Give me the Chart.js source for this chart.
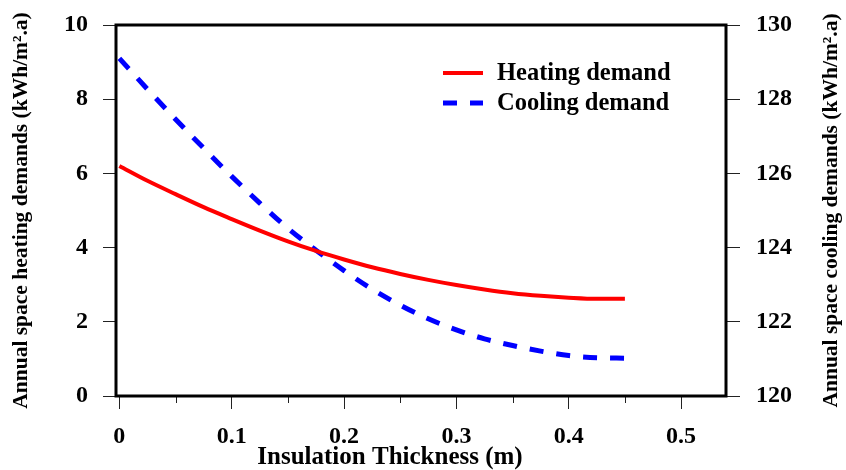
<!DOCTYPE html>
<html>
<head>
<meta charset="utf-8">
<script src="https://cdn.jsdelivr.net/npm/chart.js@4.4.0/dist/chart.umd.min.js"></script>
<style>
  html, body { margin: 0; padding: 0; background: #ffffff; }
  #wrap { width: 846px; height: 470px; }
</style>
</head>
<body>
<div id="wrap"><canvas id="chart" width="846" height="470"></canvas></div>
<script>
// Insulation thickness (m) and the resulting annual demands
const thickness = [0, 0.025, 0.05, 0.075, 0.1, 0.125, 0.15, 0.175, 0.2, 0.225, 0.25, 0.275, 0.3, 0.325, 0.35, 0.375, 0.4, 0.425, 0.45];
const heatingDemand = [6.20, 5.80, 5.44, 5.09, 4.77, 4.46, 4.17, 3.91, 3.68, 3.47, 3.29, 3.13, 2.99, 2.87, 2.77, 2.70, 2.65, 2.62, 2.62];
const coolingDemand = [129.10, 128.27, 127.46, 126.68, 125.92, 125.20, 124.52, 123.93, 123.38, 122.88, 122.45, 122.08, 121.78, 121.54, 121.36, 121.21, 121.09, 121.03, 121.02];

// Axis ticks
const xTickValues = [0, 0.1, 0.2, 0.3, 0.4, 0.5];
const xMinorTickValues = [0.05, 0.15, 0.25, 0.35, 0.45];
const heatingTicks = [0, 2, 4, 6, 8, 10];
const coolingTicks = [120, 122, 124, 126, 128, 130];

const seriesLabels = ['Heating demand', 'Cooling demand'];
const xTitle = 'Insulation Thickness (m)';
const leftTitle = 'Annual space heating demands (kWh/m\u00B2.a)';
const rightTitle = 'Annual space cooling demands (kWh/m\u00B2.a)';

const FONT = '"Liberation Serif", "Times New Roman", serif';

const toPoints = (xs, ys) => xs.map((x, i) => ({ x: x, y: ys[i] }));
const fixedTicks = values => scale => { scale.ticks = values.map(v => ({ value: v })); };
// fixed axis band sizes; tick label overhang is left to the layout padding
const fixWidth = w => s => { s.width = w; s.paddingTop = 0; s.paddingBottom = 0; };

// Thick box around the plot, short minor ticks on the x axis, titles, legend
const framePlugin = {
  id: 'frameAndExtras',
  afterDraw(chart) {
    const { ctx, chartArea: a, scales } = chart;
    ctx.save();
    // minor x ticks
    ctx.strokeStyle = '#222';
    ctx.lineWidth = 1;
    xMinorTickValues.forEach(v => {
      const px = Math.round(scales.x.getPixelForValue(v)) + 0.5;
      ctx.beginPath();
      ctx.moveTo(px, a.bottom);
      ctx.lineTo(px, a.bottom + 7);
      ctx.stroke();
    });
    // frame
    ctx.strokeStyle = '#000';
    ctx.lineWidth = 3;
    ctx.strokeRect(a.left, a.top, a.right - a.left, a.bottom - a.top);

    // x axis title
    ctx.fillStyle = '#000';
    ctx.textAlign = 'center';
    ctx.textBaseline = 'middle';
    ctx.font = 'bold 25px ' + FONT;
    ctx.fillText(xTitle, 390, 458);

    // right axis title, reading bottom to top
    ctx.font = 'bold 21.5px ' + FONT;
    ctx.translate(831, (a.top + a.bottom) / 2);
    ctx.rotate(-Math.PI / 2);
    ctx.fillText(rightTitle, 0, 0);
    ctx.restore();

    // legend
    ctx.save();
    const lx = a.left + 327, ly = a.top + 48, rowGap = 30, sample = 40;
    ctx.font = 'bold 24.5px ' + FONT;
    ctx.textAlign = 'left';
    ctx.textBaseline = 'middle';
    chart.data.datasets.forEach((ds, i) => {
      const y = ly + i * rowGap;
      ctx.strokeStyle = ds.borderColor;
      ctx.lineWidth = ds.borderWidth;
      ctx.setLineDash(ds.borderDash || []);
      ctx.beginPath();
      ctx.moveTo(lx, y);
      ctx.lineTo(lx + sample, y);
      ctx.stroke();
      ctx.setLineDash([]);
      ctx.fillStyle = '#000';
      ctx.fillText(ds.label, lx + sample + 14, y + 1);
    });
    ctx.restore();
  }
};

const tickFont = { family: FONT, size: 24, weight: 'bold' };

new Chart(document.getElementById('chart'), {
  type: 'line',
  data: {
    datasets: [
      {
        label: seriesLabels[0],
        data: toPoints(thickness, heatingDemand),
        yAxisID: 'yLeft',
        borderColor: '#ff0000',
        borderWidth: 4,
        pointRadius: 0,
        cubicInterpolationMode: 'monotone',
        fill: false
      },
      {
        label: seriesLabels[1],
        data: toPoints(thickness, coolingDemand),
        yAxisID: 'yRight',
        borderColor: '#0000ff',
        borderWidth: 5,
        borderDash: [14, 13],
        pointRadius: 0,
        cubicInterpolationMode: 'monotone',
        fill: false
      }
    ]
  },
  options: {
    responsive: false,
    animation: false,
    devicePixelRatio: 1,
    layout: { padding: { top: 25, left: 0, right: 0, bottom: 0 } },
    plugins: { legend: { display: false }, tooltip: { enabled: false } },
    scales: {
      x: {
        type: 'linear',
        position: 'bottom',
        min: -0.003,
        max: 0.54,
        afterBuildTicks: fixedTicks(xTickValues),
        afterFit: s => { s.height = 74; s.paddingLeft = 0; s.paddingRight = 0; },
        border: { display: false },
        grid: { drawOnChartArea: false, drawTicks: true, tickLength: 13, tickColor: '#222', tickWidth: 1 },
        ticks: { font: tickFont, color: '#000', padding: 13, maxRotation: 0, callback: v => String(Math.round(v * 10) / 10) },
        title: { display: false }
      },
      yLeft: {
        type: 'linear',
        position: 'left',
        min: 0,
        max: 10,
        afterBuildTicks: fixedTicks(heatingTicks),
        afterFit: fixWidth(116),
        border: { display: false },
        grid: { drawOnChartArea: false, drawTicks: true, tickLength: 13, tickColor: '#222', tickWidth: 1 },
        ticks: { font: tickFont, color: '#000', padding: 15 },
        title: { display: true, text: leftTitle, color: '#000', font: { family: FONT, size: 21.5, weight: 'bold' }, padding: { top: 9, bottom: 0 } }
      },
      yRight: {
        type: 'linear',
        position: 'right',
        min: 120,
        max: 130,
        afterBuildTicks: fixedTicks(coolingTicks),
        afterFit: fixWidth(120),
        border: { display: false },
        grid: { drawOnChartArea: false, drawTicks: true, tickLength: 14, tickColor: '#222', tickWidth: 1 },
        ticks: { font: tickFont, color: '#000', padding: 16 }
      }
    }
  },
  plugins: [framePlugin]
});
</script>
</body>
</html>
